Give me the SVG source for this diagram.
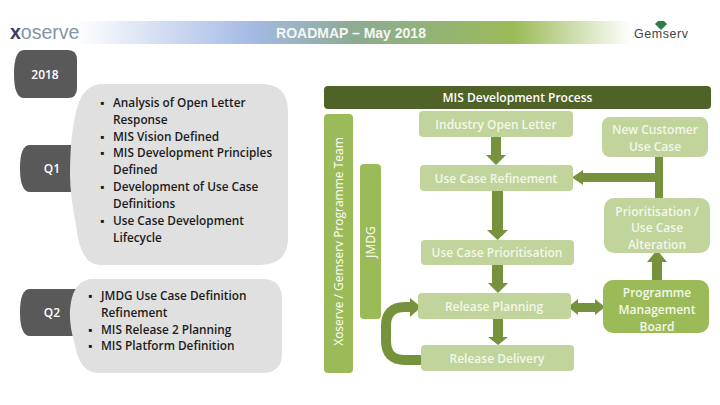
<svg xmlns="http://www.w3.org/2000/svg" width="720" height="405" viewBox="0 0 720 405">
<defs>
<linearGradient id="band" x1="75" y1="0" x2="632" y2="0" gradientUnits="userSpaceOnUse">
<stop offset="0" stop-color="#ffffff"/><stop offset="0.32" stop-color="#a4bae5"/><stop offset="0.5" stop-color="#8cab92"/><stop offset="0.79" stop-color="#9bbb59"/><stop offset="1" stop-color="#ffffff"/>
</linearGradient>
</defs>
<style>
text{font-family:"Open Sans","Noto Sans",sans-serif;font-weight:600}
.dark{fill:#595959}
.gray{fill:#e0e0e0}
.q{font-size:12px;fill:#fff;text-anchor:middle}
.li{font-size:11.8px;fill:#1c1c1c}
.n{fill:#c0d49b}
.nt{font-size:12px;fill:#f4f7ea;text-anchor:middle}
.bar{fill:#9bbb59}
.bt{font-size:12px;fill:#fff;text-anchor:middle;font-weight:500}
.c{fill:#76923c}
.cs{fill:none;stroke:#76923c}
</style>
<g id="header">
<rect x="75" y="21" width="557" height="23" fill="url(#band)"/>
<text x="351" y="38" text-anchor="middle" style="font-family:'Liberation Sans',sans-serif;font-weight:700;font-size:14px;fill:#f4f6f4">ROADMAP – May 2018</text>
</g>
<g id="logo-xoserve">
<text x="10" y="39" style="font-family:'Liberation Sans',sans-serif;font-weight:400;font-size:19.500px;fill:#8494a4"><tspan fill="#3c3c64" font-weight="700">x</tspan>oserve</text>
</g>
<g id="logo-gemserv">
<polygon points="655,24 658,21 664,21 667,24 661,30" fill="#2f7d4a"/>
<text x="634" y="38" style="font-family:'Liberation Sans',sans-serif;font-weight:400;font-size:12.500px;fill:#444" textLength="54">Gemserv</text>
</g>
<g id="year-2018">
<path class="dark" d="M24 50H68Q77 50 77 60V88Q77 98 68 98H24Q14 98 14 74Q14 50 24 50Z"/>
<text class="q" x="45" y="79">2018</text>
</g>
<g id="q1">
<path class="dark" d="M30 145H80V192H30Q20 192 20 168Q20 145 30 145Z"/>
<text class="q" x="52" y="173">Q1</text>
</g>
<g id="q2">
<path class="dark" d="M30 289H78V336H30Q20 336 20 312Q20 289 30 289Z"/>
<text class="q" x="52" y="317">Q2</text>
</g>
<g id="q1-details">
<path class="gray" d="M100 84H262Q288 84 288 112V238Q288 265 258 265H100Q80 265 76 225Q70 195 70 175Q70 130 78 105Q84 86 100 84Z"/>
<text class="li" x="100" y="107">▪</text><text class="li" x="113" y="107">Analysis of Open Letter</text>
<text class="li" x="113" y="124">Response</text>
<text class="li" x="100" y="141">▪</text><text class="li" x="113" y="141">MIS Vision Defined</text>
<text class="li" x="100" y="157">▪</text><text class="li" x="113" y="157">MIS Development Principles</text>
<text class="li" x="113" y="174">Defined</text>
<text class="li" x="100" y="191">▪</text><text class="li" x="113" y="191">Development of Use Case</text>
<text class="li" x="113" y="208">Definitions</text>
<text class="li" x="100" y="225">▪</text><text class="li" x="113" y="225">Use Case Development</text>
<text class="li" x="113" y="242">Lifecycle</text>
</g>
<g id="q2-details">
<path class="gray" d="M90 279H262Q282 279 282 299V353Q282 373 262 373H98Q80 373 75 345Q69 325 70 310Q72 282 90 279Z"/>
<text class="li" x="88" y="300">▪</text><text class="li" x="101" y="300">JMDG Use Case Definition</text>
<text class="li" x="101" y="317">Refinement</text>
<text class="li" x="88" y="334">▪</text><text class="li" x="101" y="334">MIS Release 2 Planning</text>
<text class="li" x="88" y="350">▪</text><text class="li" x="101" y="350">MIS Platform Definition</text>
</g>
<g id="process-title">
<rect x="324" y="86" width="387" height="23" rx="4" fill="#4f6228"/>
<text x="517.500" y="102" text-anchor="middle" style="font-size:12px;fill:#fff">MIS Development Process</text>
</g>
<g id="team-bar">
<rect class="bar" x="324" y="114" width="29" height="259" rx="4"/>
<text class="bt" transform="translate(343 241.500) rotate(-90)">Xoserve / Gemserv Programme Team</text>
</g>
<g id="jmdg-bar">
<rect class="bar" x="360" y="164" width="21" height="155" rx="4"/>
<text class="bt" transform="translate(375 242) rotate(-90)">JMDG</text>
</g>
<g id="connectors">
<polygon class="c" points="491,136 501,136 501,155 506,155 496,165 486,155 491,155"/>
<polygon class="c" points="492,191 503,191 503,230 508,230 497.500,240 487,230 492,230"/>
<polygon class="c" points="492,265 503,265 503,283 508,283 498,293 488,283 492,283"/>
<polygon class="c" points="493,318 503,318 503,337 508,337 498,345 488,337 493,337"/>
<polygon class="c" points="655,155 663,155 663,200 655,200 655,182 583,182 583,185 572,177.500 583,170 583,173 655,173"/>
<polygon class="c" points="652,280 662,280 662,262 667,262 657,250 647,262 652,262"/>
<polygon class="c" points="568,307 578,299 578,303 595,303 595,299 605,307 595,315 595,312 578,312 578,315"/>
<path class="cs" stroke-width="10" d="M421 360H405Q386 360 386 341V326Q386 307 405 307H411"/>
<polygon class="c" points="410,298 421,307 410,317"/>
</g>
<g id="industry-open-letter"><rect class="n" x="419" y="111" width="154" height="26" rx="4"/><text class="nt" x="496" y="129">Industry Open Letter</text></g>
<g id="use-case-refinement"><rect class="n" x="420" y="165" width="153" height="26" rx="4"/><text class="nt" x="496" y="183">Use Case Refinement</text></g>
<g id="use-case-prioritisation"><rect class="n" x="421" y="240" width="153" height="25" rx="4"/><text class="nt" x="497" y="257">Use Case Prioritisation</text></g>
<g id="release-planning"><rect class="n" x="418" y="293" width="153" height="26" rx="4"/><text class="nt" x="494" y="311">Release Planning</text></g>
<g id="release-delivery"><rect class="n" x="421" y="345" width="153" height="26" rx="4"/><text class="nt" x="497" y="363">Release Delivery</text></g>
<g id="new-customer"><rect class="n" x="602" y="117" width="106" height="40" rx="8"/><text class="nt" x="655" y="134">New Customer</text><text class="nt" x="655" y="151">Use Case</text></g>
<g id="prioritisation-alteration"><rect class="n" x="604" y="198" width="106" height="55" rx="10"/><text class="nt" x="657" y="216">Prioritisation /</text><text class="nt" x="657" y="232">Use Case</text><text class="nt" x="657" y="249">Alteration</text></g>
<g id="programme-board"><rect class="bar" x="603" y="280" width="106" height="53" rx="10"/><text class="nt" x="657" y="297">Programme</text><text class="nt" x="657" y="314">Management</text><text class="nt" x="657" y="331">Board</text></g>
</svg>
